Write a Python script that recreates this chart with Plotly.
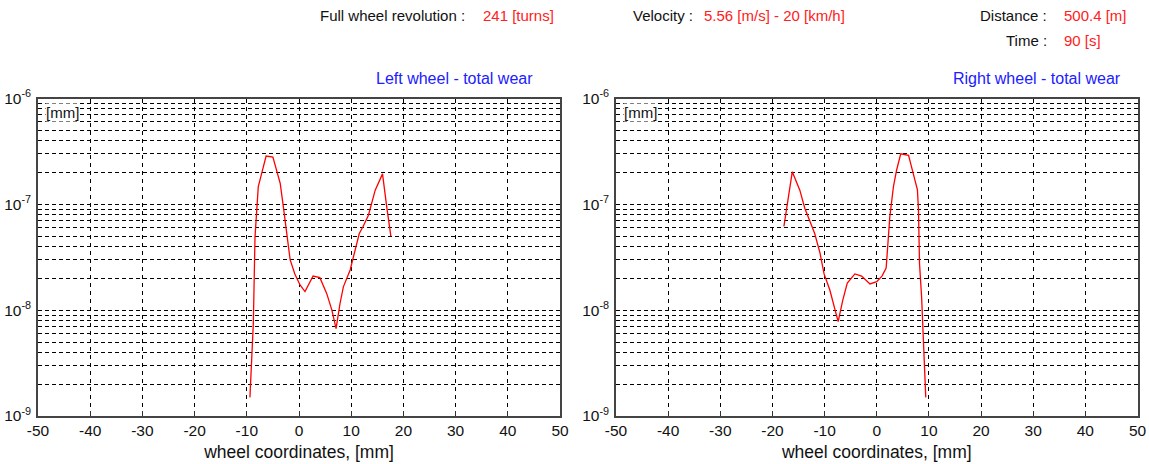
import plotly.graph_objects as go

# Wear profiles across the wheel width: coordinate [mm] vs. total wear [mm]
left_x = [-9.4, -9.06, -8.75, -8.43, -8.1, -7.8, -7.15, -6.3, -5.0, -3.6, -3.0, -2.2,
          -1.7, -0.8, 0.2, 1.15, 2.7, 4.0, 5.3, 6.3, 7.1, 7.85, 8.5, 9.8, 10.7, 11.55,
          12.3, 13.3, 14.6, 16.0, 16.8, 17.6]
left_wear = [1.5e-9, 3.9e-9, 7.5e-9, 4.9e-8, 1.02e-7, 1.47e-7, 1.96e-7, 2.86e-7, 2.8e-7,
             1.58e-7, 9.5e-8, 4.6e-8, 3.0e-8, 2.2e-8, 1.73e-8, 1.5e-8, 2.1e-8, 2.03e-8,
             1.44e-8, 1.0e-8, 6.7e-9, 1.15e-8, 1.66e-8, 2.4e-8, 3.7e-8, 5.3e-8, 6.2e-8,
             7.9e-8, 1.36e-7, 1.94e-7, 9.5e-8, 5.0e-8]

right_x = [-17.8, -17.0, -16.2, -14.75, -13.8, -12.8, -11.9, -10.9, -10.1, -9.0, -8.2,
           -7.4, -6.5, -5.65, -4.2, -2.9, -1.3, 0.0, 1.0, 1.8, 2.1, 2.5, 3.2, 3.8, 4.6,
           6.1, 7.0, 7.8, 8.0, 8.2, 8.6, 8.8, 9.1, 9.4]
right_wear = [6.2e-8, 1.1e-7, 2.03e-7, 1.36e-7, 9.2e-8, 6.9e-8, 5.3e-8, 3.5e-8, 2.2e-8,
              1.55e-8, 1.07e-8, 7.8e-9, 1.25e-8, 1.8e-8, 2.2e-8, 2.1e-8, 1.77e-8, 1.86e-8,
              2.1e-8, 2.5e-8, 4.0e-8, 7.6e-8, 1.47e-7, 2.1e-7, 3.0e-7, 2.9e-7, 1.95e-7,
              1.37e-7, 8.9e-8, 2.76e-8, 1.34e-8, 7.6e-9, 3.6e-9, 1.5e-9]

x_ticks = [-50, -40, -30, -20, -10, 0, 10, 20, 30, 40, 50]
x_ticktext = [str(v) for v in x_ticks]
decades = [-9, -8, -7, -6]

# Labelled decades plus unlabelled intermediate grid lines (2..9 x 10^d)
y_tickvals = [10.0 ** d for d in decades]
y_ticktext = [f"10<sup>{d}</sup>" for d in decades]
y_minorvals = [m * 10.0 ** d for d in decades[:-1] for m in range(2, 10)]

FONT = "Liberation Sans, Arial, sans-serif"
W, H = 1149, 464

fig = go.Figure()
fig.add_trace(go.Scatter(x=left_x, y=left_wear, mode="lines",
                         line=dict(color="#ff0000", width=1.3),
                         xaxis="x", yaxis="y", showlegend=False))
fig.add_trace(go.Scatter(x=right_x, y=right_wear, mode="lines",
                         line=dict(color="#ff0000", width=1.3),
                         xaxis="x2", yaxis="y2", showlegend=False))

y_top = 1 - 98.5 / H
y_bot = 1 - 416 / H

xaxis_common = dict(range=[-50, 50], tickvals=x_ticks, ticktext=x_ticktext,
                    ticks="inside", ticklen=5, tickcolor="#333",
                    showline=True, linecolor="#444", linewidth=1.5, mirror=True,
                    showgrid=True, gridcolor="#000", gridwidth=1,
                    griddash="4px,4px", zeroline=False, automargin=False,
                    tickfont=dict(family=FONT, size=15.5, color="#111"),
                    title=dict(text="wheel coordinates, [mm]",
                               font=dict(family=FONT, size=17.5, color="#111"),
                               standoff=7))
yaxis_common = dict(type="log", range=[-9, -6], tickvals=y_tickvals, ticktext=y_ticktext,
                    ticks="", showline=True, linecolor="#444", linewidth=1.5, mirror=True,
                    showgrid=True, gridcolor="#000", gridwidth=1, griddash="4px,3px",
                    minor=dict(tickvals=y_minorvals, ticks="", showgrid=True,
                               gridcolor="#000", gridwidth=1, griddash="4px,3px"),
                    zeroline=False, automargin=False, domain=[y_bot, y_top],
                    ticklabelstandoff=2,
                    tickfont=dict(family=FONT, size=15.5, color="#111"))

fig.update_layout(
    width=W, height=H,
    margin=dict(l=0, r=0, t=0, b=0),
    paper_bgcolor="white", plot_bgcolor="white",
    xaxis=dict(domain=[38 / W, 560 / W], anchor="y", **xaxis_common),
    yaxis=dict(anchor="x", **yaxis_common),
    xaxis2=dict(domain=[616 / W, 1137.5 / W], anchor="y2", **xaxis_common),
    yaxis2=dict(anchor="x2", **yaxis_common),
)

def text(x_px, y_px, s, color, size=15, anchor="left", bg=None):
    fig.add_annotation(x=x_px / W, y=1 - y_px / H, xref="paper", yref="paper",
                       text=s, showarrow=False, xanchor=anchor, yanchor="middle",
                       font=dict(family=FONT, size=size, color=color),
                       bgcolor=bg, borderpad=0)

# Run information header
text(466, 16, "Full wheel revolution :", "#111", anchor="right")
text(482, 16, "241 [turns]", "#ff2020")
text(694, 16, "Velocity :", "#111", anchor="right")
text(703, 16, "5.56 [m/s] - 20 [km/h]", "#ff2020")
text(1048, 16, "Distance :", "#111", anchor="right")
text(1063, 16, "500.4 [m]", "#ff2020")
text(1048, 40, "Time :", "#111", anchor="right")
text(1063, 40, "90 [s]", "#ff2020")

# Panel titles
text(534, 78, "Left wheel - total wear", "#2020ff", size=16, anchor="right")
text(1122, 78, "Right wheel - total wear", "#2020ff", size=16, anchor="right")

# Unit label inside each panel
text(45, 113, "[mm]", "#111", size=15, bg="white")
text(623, 113, "[mm]", "#111", size=15, bg="white")

fig.write_html("out.html")
